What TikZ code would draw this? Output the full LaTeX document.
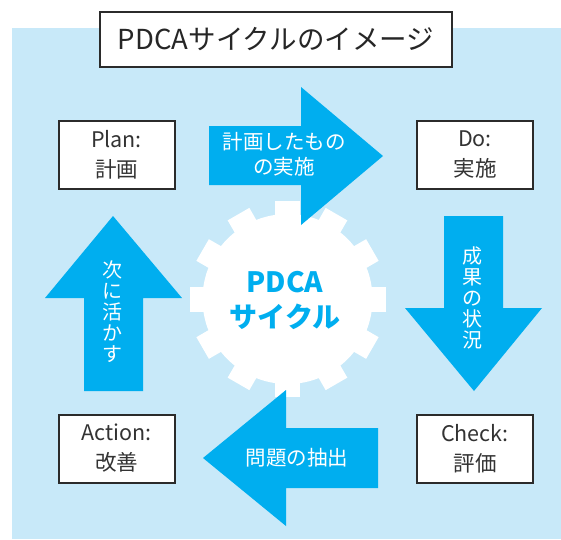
\documentclass[tikz,border=0pt]{standalone}
\usepackage{fontspec}
\setmainfont{Noto Sans CJK JP}
\definecolor{bgblue}{HTML}{C8E9F9}
\definecolor{arrowc}{HTML}{00AEEF}
\definecolor{boxline}{HTML}{2B2B2B}
\definecolor{boxtext}{HTML}{333333}
\tikzset{
  stagebox/.style={draw=boxline, line width=2pt, fill=white, minimum width=116pt, minimum height=68pt, inner sep=0pt, align=center, text=boxtext, font=\fontsize{21.5}{30}\selectfont},
  arrowshape/.style={fill=arrowc},
  arrowtext/.style={text=white, align=center, inner sep=0pt, font=\fontsize{20.5}{25}\selectfont},
  verttext/.style={text=white, align=center, inner sep=0pt, font=\fontsize{20}{21}\selectfont},
  titlebox/.style={draw=boxline, line width=1.6pt, fill=white, minimum width=352pt, minimum height=55pt, inner sep=0pt, text=black!85, font=\fontsize{27.5}{30}\selectfont},
  gearfill/.style={fill=white},
  geartext/.style={text=arrowc, align=center, inner sep=0pt, font=\fontsize{28}{35}\selectfont\bfseries}
}
\begin{document}
\begin{tikzpicture}[x=1pt, y=-1pt]
\useasboundingbox (0,0) rectangle (561,539);
% background
\fill[bgblue] (12,28) rectangle (561,539);
% gear
\coordinate (gc) at (287.5,299);
\fill[gearfill] (gc) circle (85);
\foreach \a in {0,30,...,330} {
  \fill[gearfill, shift={(gc)}, rotate=\a] (70,-12.5) rectangle (98,12.5);
}
\node[geartext] (gear) at (285,300) {PDCA\\サイクル};
% arrows
\fill[arrowshape] (209,126) -- (301,126) -- (301,87) -- (383,156) -- (301,225) -- (301,185) -- (209,185) -- cycle;
\fill[arrowshape] (444,216) -- (503,216) -- (503,308) -- (542,308) -- (474,391) -- (405,308) -- (444,308) -- cycle;
\fill[arrowshape] (378,428) -- (378,488) -- (286,488) -- (286,526) -- (203,458) -- (286,390) -- (286,428) -- cycle;
\fill[arrowshape] (84,391) -- (84,298) -- (45,298) -- (113,216) -- (182,298) -- (143,298) -- (143,391) -- cycle;
\node[arrowtext] (tplan) at (284,154.5) {計画したもの\\の実施};
\node[verttext] (tdo) at (472,297.5) {成\\果\\の\\状\\況};
\node[arrowtext] (tcheck) at (297,458) {問題の抽出};
\node[verttext] (tact) at (112,311.5) {次\\に\\活\\か\\す};
% stage boxes
\node[stagebox] (plan) at (116.5,154.5) {Plan:\\計画};
\node[stagebox] (do) at (475,154.5) {Do:\\実施};
\node[stagebox] (action) at (116.5,448.5) {Action:\\改善};
\node[stagebox] (check) at (475,448.5) {Check:\\評価};
% title
\node[titlebox] (title) at (276,39.5) {PDCAサイクルのイメージ};
\end{tikzpicture}
\end{document}
